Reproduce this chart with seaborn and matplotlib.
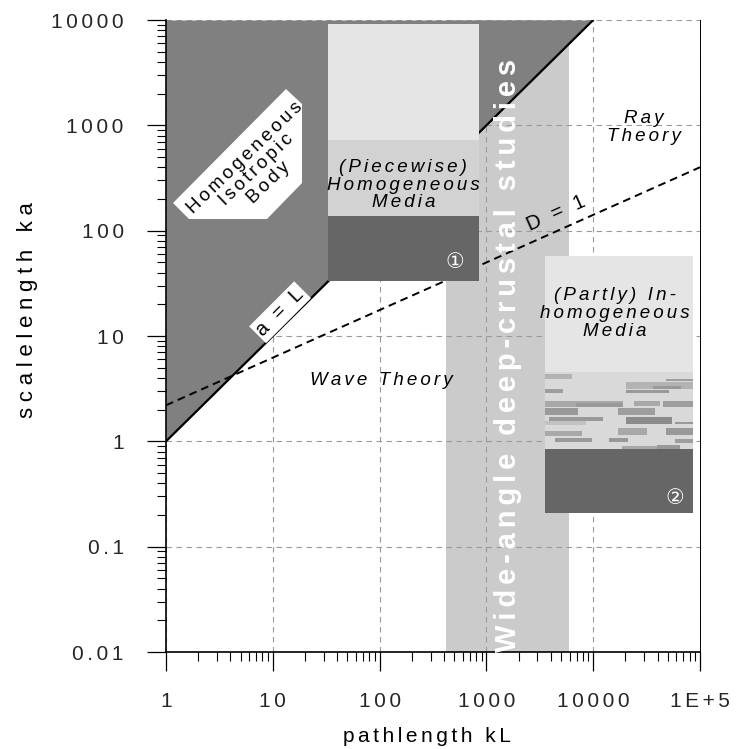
import numpy as np
import matplotlib
matplotlib.use("Agg")
import matplotlib.pyplot as plt
from matplotlib.patches import Rectangle, Polygon
import seaborn as sns

# ---- data -------------------------------------------------------------
x_ticks = [1, 10, 100, 1000, 10000, 100000]
x_tick_labels = ["1", "10", "100", "1000", "10000", "1E+5"]
y_ticks = [0.01, 0.1, 1, 10, 100, 1000, 10000]
y_tick_labels = ["0.01", "0.1", "1", "10", "100", "1000", "10000"]

# a = L boundary (scalelength equals pathlength)
aL_x = [1, 10000]
aL_y = [1, 10000]
# D = 1 (Fresnel parameter) boundary
d1_x = [1, 100000]
d1_y = [2.2, 400]

# wide-angle deep-crustal band in pathlength
band_x = [420, 5900]

# (Piecewise) homogeneous media block: x-range and layer limits in ka
box1_x = [33, 850]
box1_layers = [33, 137, 722, 9100]
# (Partly) inhomogeneous media block
box2_x = [3540, 86000]
box2_layers = [0.207, 0.84, 4.6, 57]

# streaks of the inhomogeneous texture: (x0, x1, y0, y1, grey) as fractions
# of the textured layer (y measured from its top)
streaks = [
    (0.00, 0.18, 0.03, 0.09, 0.70), (0.82, 1.00, 0.09, 0.12, 0.62),
    (0.55, 1.00, 0.14, 0.22, 0.70), (0.73, 0.92, 0.18, 0.22, 0.60),
    (0.00, 0.12, 0.22, 0.28, 0.62), (0.55, 0.84, 0.24, 0.28, 0.60),
    (0.00, 0.53, 0.38, 0.45, 0.66), (0.21, 0.53, 0.41, 0.45, 0.60),
    (0.60, 0.78, 0.38, 0.44, 0.66), (0.80, 1.00, 0.38, 0.45, 0.62),
    (0.00, 0.22, 0.47, 0.56, 0.60), (0.49, 0.74, 0.47, 0.56, 0.62),
    (0.03, 0.39, 0.58, 0.63, 0.60), (0.55, 0.86, 0.58, 0.67, 0.55),
    (0.00, 0.28, 0.64, 0.69, 0.76), (0.88, 1.00, 0.65, 0.68, 0.60),
    (0.49, 0.69, 0.73, 0.81, 0.66), (0.82, 1.00, 0.73, 0.81, 0.60),
    (0.00, 0.25, 0.77, 0.83, 0.66), (0.07, 0.32, 0.85, 0.91, 0.60),
    (0.43, 0.56, 0.85, 0.91, 0.60), (0.88, 1.00, 0.87, 0.92, 0.62),
    (0.52, 0.91, 0.96, 1.00, 0.66), (0.76, 0.91, 0.94, 1.00, 0.60),
]

# ---- style ------------------------------------------------------------
sns.set_theme(style="white")
plt.rcParams["font.family"] = ["Liberation Sans", "DejaVu Sans"]
plt.rcParams["text.color"] = "black"

GAP = "\u2006"  # six-per-em space used as letter spacing


def tracked(s, gap=GAP):
    """Letter-spaced text, line by line."""
    return "\n".join(gap.join(line) for line in s.split("\n"))


fig = plt.figure(figsize=(7.36, 7.49), dpi=100)
ax = fig.add_axes([166 / 736, 1 - 652 / 749, 534 / 736, 632 / 749])
ax.set_xscale("log")
ax.set_yscale("log")
ax.set_xlim(x_ticks[0], x_ticks[-1])
ax.set_ylim(y_ticks[0], y_ticks[-1])

# grid and axis lines below the shaded regions
ax.set_axisbelow(True)
ax.grid(True, which="major", color="#9a9a9a", linestyle=(0, (5, 4)), linewidth=0.8)

# wide-angle band
ax.axvspan(band_x[0], band_x[1], color="#cbcbcb", lw=0, zorder=0.3)

# region above a = L
ax.fill_between(aL_x, aL_y, y_ticks[-1], color="#808080", lw=0, zorder=1)

# boundary lines
sns.lineplot(x=aL_x, y=aL_y, ax=ax, color="black", lw=1.6, zorder=1.5)
sns.lineplot(x=d1_x, y=d1_y, ax=ax, color="black", lw=1.4,
             linestyle=(0, (4, 2.6)), zorder=1.6)

# (Piecewise) homogeneous block
for (lo, hi), col in zip(zip(box1_layers[:-1], box1_layers[1:]),
                         ["#666666", "#d2d2d2", "#e5e5e5"]):
    ax.add_patch(Rectangle((box1_x[0], lo), box1_x[1] - box1_x[0], hi - lo,
                           facecolor=col, lw=0, zorder=2))

# (Partly) inhomogeneous block
for (lo, hi), col in zip(zip(box2_layers[:-1], box2_layers[1:]),
                         ["#666666", "#d9d9d9", "#e5e5e5"]):
    ax.add_patch(Rectangle((box2_x[0], lo), box2_x[1] - box2_x[0], hi - lo,
                           facecolor=col, lw=0, zorder=2))

lx0, lx1 = np.log10(box2_x)
ly_bot, ly_top = np.log10(box2_layers[1]), np.log10(box2_layers[2])
for fx0, fx1, fy0, fy1, g in streaks:
    xa = 10 ** (lx0 + fx0 * (lx1 - lx0))
    xb = 10 ** (lx0 + fx1 * (lx1 - lx0))
    ya = 10 ** (ly_top - fy1 * (ly_top - ly_bot))
    yb = 10 ** (ly_top - fy0 * (ly_top - ly_bot))
    ax.add_patch(Rectangle((xa, ya), xb - xa, yb - ya,
                           facecolor=str(g), lw=0, zorder=2.1))

# white plate behind the isotropic-body label
plate = [(0.0131, 0.7104), (0.0431, 0.6851), (0.1891, 0.6851),
         (0.2547, 0.7421), (0.2547, 0.8671), (0.2247, 0.8908)]
ax.add_patch(Polygon(plate, closed=True, transform=ax.transAxes,
                     facecolor="white", lw=0, zorder=2.2))

# ---- labels -------------------------------------------------------------
ital = dict(style="italic", fontsize=13.5, ha="center", va="center",
            zorder=4, linespacing=1.05)
ax.text(7.1, 375, tracked("Homogeneous\nIsotropic\nBody"), rotation=44,
        fontsize=13.5, ha="center", va="center", zorder=4, linespacing=1.05,
        rotation_mode="anchor")
ax.text(167, 270, tracked("(Piecewise)\nHomogeneous\nMedia"), **ital)
ax.text(16000, 16.4, tracked("(Partly) In-\nhomogeneous\nMedia"), **ital)
ax.text(29900, 960, tracked("Ray\nTheory"), **ital)
ax.text(103, 3.8, tracked("Wave Theory"), **ital)

ax.text(4490, 146, tracked("D = 1"), rotation=24, fontsize=14.5,
        ha="center", va="center", rotation_mode="anchor", zorder=4)
ax.text(11.7, 16.8, tracked("a = L"), rotation=45, fontsize=14.5,
        ha="center", va="center", rotation_mode="anchor", zorder=4,
        bbox=dict(boxstyle="square,pad=0.12", fc="white", ec="none"))

ax.text(1600, 6.6, tracked("Wide-angle deep-crustal studies"), rotation=90,
        fontsize=21, fontweight="bold", color="white", ha="center",
        va="center", zorder=3)

circ = dict(color="white", fontsize=15, ha="center", va="center", zorder=4,
            family=["DejaVu Sans", "Noto Sans CJK SC"])
ax.text(508, 50, "\u2460", **circ)
ax.text(58300, 0.288, "\u2461", **circ)

# ---- axes ---------------------------------------------------------------
ax.set_xticks(x_ticks)
ax.set_xticklabels([tracked(t) for t in x_tick_labels], fontsize=15)
ax.set_yticks(y_ticks)
ax.set_yticklabels([tracked(t) for t in y_tick_labels], fontsize=15)
ax.xaxis.set_minor_locator(matplotlib.ticker.LogLocator(base=10, subs=np.arange(2, 10)))
ax.yaxis.set_minor_locator(matplotlib.ticker.LogLocator(base=10, subs=np.arange(2, 10)))
ax.xaxis.set_minor_formatter(matplotlib.ticker.NullFormatter())
ax.yaxis.set_minor_formatter(matplotlib.ticker.NullFormatter())
ax.tick_params(which="major", direction="out", length=14, width=0.9,
               color="black", bottom=True, left=True)
ax.tick_params(axis="x", which="major", pad=15)
ax.tick_params(axis="y", which="major", pad=16.5)
ax.tick_params(which="minor", direction="out", length=6.5, width=0.8,
               color="black", bottom=True, left=True)

for side in ["left", "bottom"]:
    ax.spines[side].set_color("black")
    ax.spines[side].set_linewidth(1.2)
ax.spines["right"].set_color("black")
ax.spines["right"].set_linewidth(0.7)
ax.spines["top"].set_visible(False)

fig.text(427 / 736, 1 - 737 / 749, tracked("pathlength kL"), fontsize=15,
         ha="center", va="center")
fig.text(27 / 736, 1 - 310 / 749, tracked("scalelength ka", "\u2005"),
         fontsize=16, ha="center", va="center", rotation=90)

fig.savefig("out.png", dpi=100)
